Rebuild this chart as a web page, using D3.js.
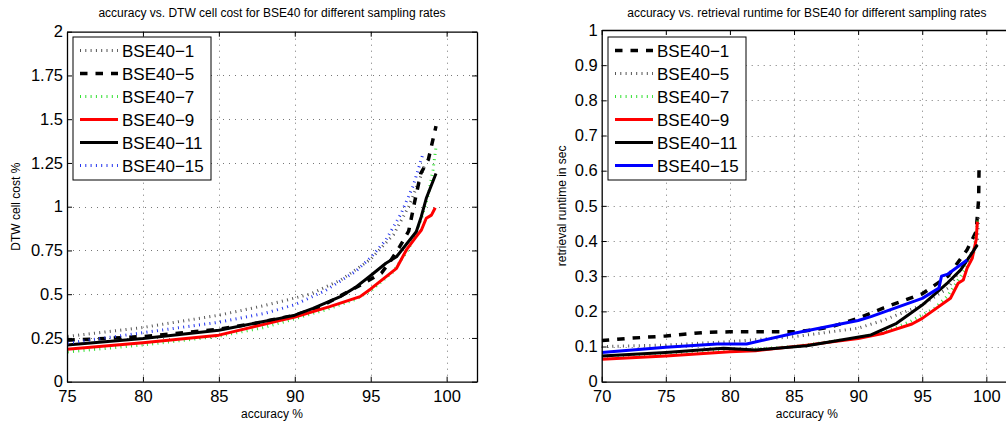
<html>
<head>
<script src="https://d3js.org/d3.v7.min.js"></script>
<style>
  body { margin: 0; background: #fff; }
  svg text { font-family: "Liberation Sans", Arial, sans-serif; fill: #000; }
</style>
</head>
<body>
<svg id="chart" width="1006" height="426"></svg>
<script>
// ---- left panel: accuracy vs DTW cell cost ----
var dtwXTicks = [75, 80, 85, 90, 95, 100];
var dtwYTicks = [0, 0.25, 0.5, 0.75, 1, 1.25, 1.5, 1.75, 2];
var dtwYLabels = ["0", "0.25", "0.5", "0.75", "1", "1.25", "1.5", "1.75", "2"];

var dtwAcc1  = [74, 75, 80, 85, 88, 91, 93, 95, 96.5, 97.5, 98.2, 98.6];
var dtwCost1 = [0.25, 0.258, 0.31, 0.38, 0.435, 0.50, 0.58, 0.70, 0.84, 1.0, 1.15, 1.25];
var dtwAcc5  = [74, 75, 77, 80, 85, 87.5, 90, 91.5, 93, 94.5, 95.7, 96.3, 96.9, 97.5, 97.9, 98.3, 98.8, 99.3];
var dtwCost5 = [0.235, 0.237, 0.245, 0.258, 0.30, 0.335, 0.38, 0.42, 0.49, 0.56, 0.62, 0.69, 0.77, 0.86, 1.03, 1.19, 1.27, 1.46];
var dtwAcc7  = [74, 75, 80, 85, 88, 90, 92, 94, 95, 96.5, 97.5, 98.3, 98.8, 99.1, 99.3];
var dtwCost7 = [0.165, 0.17, 0.21, 0.26, 0.31, 0.36, 0.41, 0.47, 0.52, 0.63, 0.76, 0.92, 1.07, 1.21, 1.34];
var dtwAcc9  = [74, 75, 80, 85, 89, 90, 92.3, 94.3, 95, 96.7, 97.35, 98.0, 98.34, 98.66, 99.0, 99.25];
var dtwCost9 = [0.18, 0.185, 0.222, 0.266, 0.349, 0.37, 0.429, 0.486, 0.53, 0.648, 0.753, 0.829, 0.867, 0.934, 0.952, 0.994];
var dtwAcc11  = [74, 75, 80, 85, 89, 90, 91.2, 93.0, 94.06, 94.9, 96.0, 96.7, 98.0, 98.33, 98.66, 99.3];
var dtwCost11 = [0.205, 0.21, 0.247, 0.294, 0.362, 0.38, 0.419, 0.486, 0.543, 0.60, 0.677, 0.714, 0.857, 0.943, 1.048, 1.19];
var dtwAcc15  = [74, 75, 80, 85, 88, 90, 92, 94, 95, 96, 97, 97.8, 98.4];
var dtwCost15 = [0.215, 0.22, 0.28, 0.34, 0.39, 0.44, 0.52, 0.63, 0.71, 0.81, 0.96, 1.12, 1.29];

// ---- right panel: accuracy vs retrieval runtime ----
var rtXTicks = [70, 75, 80, 85, 90, 95, 100];
var rtYTicks = [0, 0.1, 0.2, 0.3, 0.4, 0.5, 0.6, 0.7, 0.8, 0.9, 1];
var rtYLabels = ["0", "0.1", "0.2", "0.3", "0.4", "0.5", "0.6", "0.7", "0.8", "0.9", "1"];

var rtAcc1  = [70, 72, 75, 78, 80, 85, 86.5, 88, 90, 92, 95, 97, 98.5, 99.2, 99.4, 99.43];
var rtTime1 = [0.117, 0.123, 0.13, 0.14, 0.142, 0.142, 0.147, 0.157, 0.18, 0.21, 0.25, 0.30, 0.375, 0.427, 0.52, 0.61];
var rtAcc5  = [70, 75, 80, 85, 90, 92, 95, 97, 98.5, 99.3, 99.4];
var rtTime5 = [0.10, 0.104, 0.114, 0.128, 0.152, 0.175, 0.218, 0.266, 0.346, 0.394, 0.47];
var rtAcc7  = [70, 80, 85, 90, 92, 94, 95, 96, 97, 98, 99, 99.35];
var rtTime7 = [0.072, 0.088, 0.10, 0.125, 0.14, 0.17, 0.19, 0.21, 0.245, 0.30, 0.36, 0.469];
var rtAcc9  = [70, 75, 80, 82, 86, 90, 92, 94.2, 95, 97.2, 97.8, 98.2, 98.5, 98.9, 99.2, 99.3];
var rtTime9 = [0.064, 0.073, 0.085, 0.088, 0.104, 0.123, 0.138, 0.164, 0.18, 0.237, 0.28, 0.289, 0.323, 0.351, 0.403, 0.455];
var rtAcc11  = [70, 75, 79.5, 82, 86, 91, 93, 95, 97, 98, 99.3];
var rtTime11 = [0.073, 0.083, 0.095, 0.09, 0.102, 0.133, 0.166, 0.218, 0.282, 0.318, 0.389];
var rtAcc15  = [70, 75, 79, 81.3, 85, 90, 91, 95, 96.3, 96.5, 97, 98.5];
var rtTime15 = [0.083, 0.098, 0.107, 0.107, 0.138, 0.174, 0.185, 0.237, 0.266, 0.30, 0.306, 0.346];

// line styles, matlab-like
var styles = {
  dotGrey:  {stroke: "#555", width: 3, dash: "1,4.3"},
  dashBlk:  {stroke: "#000", width: 3.5, dash: "7.5,8"},
  dotGreen: {stroke: "#33e033", width: 3, dash: "1,4.3"},
  red:      {stroke: "#ff0000", width: 3, dash: null},
  black:    {stroke: "#000", width: 3, dash: null},
  dotBlue:  {stroke: "#2233ee", width: 3, dash: "1,4.3"},
  blue:     {stroke: "#0000ff", width: 3, dash: null}
};

var svg = d3.select("#chart");

function zip(a, b) { return a.map(function(v, i) { return [v, b[i]]; }); }

function panel(cfg) {
  var g = svg.append("g");
  var x = d3.scaleLinear().domain(cfg.xDomain).range(cfg.xRange);
  var y = d3.scaleLinear().domain(cfg.yDomain).range(cfg.yRange);
  var x0 = cfg.xRange[0], x1 = cfg.xRange[1], y0 = cfg.yRange[0], y1 = cfg.yRange[1];

  // grid
  var grid = g.append("g").attr("stroke", "#777").attr("stroke-width", 1).attr("stroke-dasharray", "1,5");
  grid.selectAll("line.gx").data(cfg.xTicks.filter(function(d) { return x(d) > x0 + 1; }))
    .enter().append("line")
    .attr("x1", function(d) { return Math.round(x(d)) + 0.5; }).attr("x2", function(d) { return Math.round(x(d)) + 0.5; })
    .attr("y1", y0).attr("y2", y1);
  grid.selectAll("line.gy").data(cfg.yTicks.filter(function(d) { return y(d) > y1 + 1 && y(d) < y0 - 1; }))
    .enter().append("line")
    .attr("y1", function(d) { return Math.round(y(d)) + 0.5; }).attr("y2", function(d) { return Math.round(y(d)) + 0.5; })
    .attr("x1", x0).attr("x2", x1);

  // data lines
  var clipId = "clip" + cfg.id;
  g.append("clipPath").attr("id", clipId).append("rect")
    .attr("x", x0).attr("y", y1).attr("width", x1 - x0).attr("height", y0 - y1);
  var line = d3.line().x(function(d) { return x(d[0]); }).y(function(d) { return y(d[1]); });
  var lines = g.append("g").attr("clip-path", "url(#" + clipId + ")");
  cfg.series.forEach(function(s) {
    var st = styles[s.style];
    lines.append("path").datum(zip(s.x, s.y))
      .attr("d", line).attr("fill", "none")
      .attr("stroke", st.stroke).attr("stroke-width", st.width)
      .attr("stroke-dasharray", st.dash).attr("stroke-linejoin", "round");
  });

  // axes with inward ticks on all four sides
  var fmt = function(d) { return cfg.yLabels[cfg.yTicks.indexOf(d)]; };
  g.append("g").attr("transform", "translate(0," + y0 + ")")
    .call(d3.axisBottom(x).tickValues(cfg.xTicks).tickSize(-5).tickPadding(9).tickSizeOuter(0));
  g.append("g").attr("transform", "translate(0," + y1 + ")")
    .call(d3.axisTop(x).tickValues(cfg.xTicks).tickSize(-5).tickFormat("").tickSizeOuter(0));
  g.append("g").attr("transform", "translate(" + x0 + ",0)")
    .call(d3.axisLeft(y).tickValues(cfg.yTicks).tickSize(-5).tickPadding(4).tickFormat(fmt).tickSizeOuter(0));
  g.append("g").attr("transform", "translate(" + x1 + ",0)")
    .call(d3.axisRight(y).tickValues(cfg.yTicks).tickSize(-5).tickFormat("").tickSizeOuter(0));
  g.selectAll(".tick text").attr("font-size", 16.5).attr("font-family", "Liberation Sans, Arial, sans-serif");
  g.selectAll(".domain").attr("stroke", "#000").attr("stroke-width", 1.3);
  g.selectAll(".tick line").attr("stroke", "#000");

  // titles
  g.append("text").attr("x", (x0 + x1) / 2).attr("y", 17).attr("text-anchor", "middle")
    .attr("font-size", 12).text(cfg.title);
  g.append("text").attr("x", (x0 + x1) / 2).attr("y", 418).attr("text-anchor", "middle")
    .attr("font-size", 12).text("accuracy %");
  g.append("text").attr("transform", "translate(" + cfg.yLabelX + "," + ((y0 + y1) / 2) + ") rotate(-90)")
    .attr("text-anchor", "middle").attr("font-size", 12).text(cfg.yLabel);

  // legend
  var lg = g.append("g");
  lg.append("rect").attr("x", cfg.legend.x).attr("y", 37).attr("width", cfg.legend.w).attr("height", 143)
    .attr("fill", "#fff").attr("stroke", "#000").attr("stroke-width", 1);
  cfg.series.forEach(function(s, i) {
    var st = styles[s.style];
    var ly = 50.5 + i * 23;
    lg.append("line").attr("x1", cfg.legend.x + 7).attr("x2", cfg.legend.x + 45)
      .attr("y1", ly).attr("y2", ly)
      .attr("stroke", st.stroke).attr("stroke-width", st.width).attr("stroke-dasharray", st.dash);
    lg.append("text").attr("x", cfg.legend.x + 49).attr("y", ly + 6)
      .attr("font-size", 17).text(s.name);
  });
}

panel({
  id: "L",
  xDomain: [75, 102], xRange: [67, 477],
  yDomain: [0, 2], yRange: [381.7, 31.7],
  xTicks: dtwXTicks, yTicks: dtwYTicks, yLabels: dtwYLabels,
  title: "accuracy vs. DTW cell cost for BSE40 for different sampling rates",
  yLabel: "DTW cell cost %", yLabelX: 20,
  legend: {x: 73, w: 138},
  series: [
    {name: "BSE40\u22121", x: dtwAcc1, y: dtwCost1, style: "dotGrey"},
    {name: "BSE40\u22125", x: dtwAcc5, y: dtwCost5, style: "dashBlk"},
    {name: "BSE40\u22127", x: dtwAcc7, y: dtwCost7, style: "dotGreen"},
    {name: "BSE40\u22129", x: dtwAcc9, y: dtwCost9, style: "red"},
    {name: "BSE40\u221211", x: dtwAcc11, y: dtwCost11, style: "black"},
    {name: "BSE40\u221215", x: dtwAcc15, y: dtwCost15, style: "dotBlue"}
  ]
});

panel({
  id: "R",
  xDomain: [70, 102], xRange: [601.7, 1012],
  yDomain: [0, 1], yRange: [381.7, 30],
  xTicks: rtXTicks, yTicks: rtYTicks, yLabels: rtYLabels,
  title: "accuracy vs. retrieval runtime for BSE40 for different sampling rates",
  yLabel: "retrieval runtime in sec", yLabelX: 566,
  legend: {x: 608, w: 138},
  series: [
    {name: "BSE40\u22121", x: rtAcc1, y: rtTime1, style: "dashBlk"},
    {name: "BSE40\u22125", x: rtAcc5, y: rtTime5, style: "dotGrey"},
    {name: "BSE40\u22127", x: rtAcc7, y: rtTime7, style: "dotGreen"},
    {name: "BSE40\u22129", x: rtAcc9, y: rtTime9, style: "red"},
    {name: "BSE40\u221211", x: rtAcc11, y: rtTime11, style: "black"},
    {name: "BSE40\u221215", x: rtAcc15, y: rtTime15, style: "blue"}
  ]
});
</script>
</body>
</html>
